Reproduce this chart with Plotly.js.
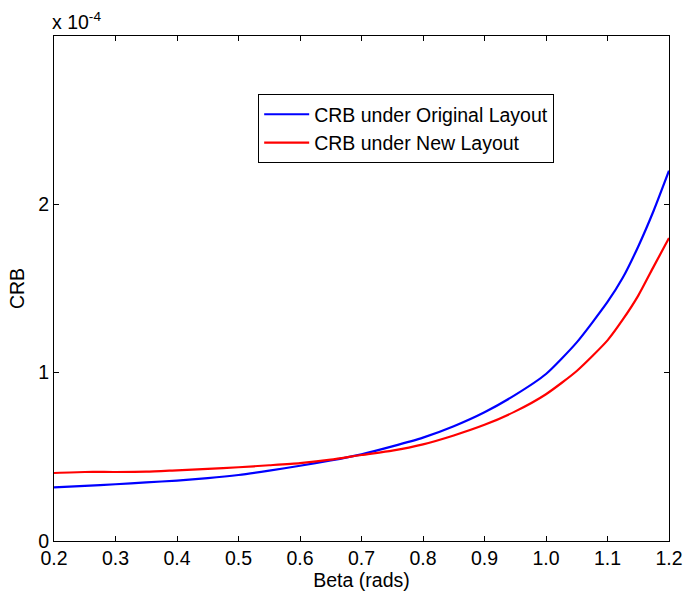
<!DOCTYPE html>
<html>
<head>
<meta charset="utf-8">
<script src="https://cdn.plot.ly/plotly-3.0.1.min.js"></script>
<style>
  html, body { margin: 0; padding: 0; background: #fff; }
  #chart { width: 686px; height: 591px; }
</style>
</head>
<body>
<div id="chart"></div>
<script>
// Beta (rads)
const beta = [0.20, 0.25, 0.30, 0.35, 0.40, 0.45, 0.50, 0.55, 0.60, 0.65, 0.70, 0.75, 0.80, 0.85, 0.90, 0.95, 1.00, 1.05, 1.10, 1.125, 1.15, 1.175, 1.20];
// CRB values in units of 1e-4
const crbOriginal = [0.318, 0.327, 0.337, 0.348, 0.359, 0.373, 0.392, 0.418, 0.447, 0.478, 0.515, 0.562, 0.614, 0.682, 0.765, 0.868, 0.992, 1.180, 1.420, 1.565, 1.750, 1.962, 2.200];
const crbNew = [0.404, 0.410, 0.410, 0.412, 0.420, 0.428, 0.438, 0.450, 0.463, 0.483, 0.511, 0.537, 0.574, 0.627, 0.690, 0.770, 0.872, 1.010, 1.192, 1.316, 1.458, 1.630, 1.800];
const seriesNames = ['CRB under Original Layout', 'CRB under New Layout'];
const xTicks = [0.2, 0.3, 0.4, 0.5, 0.6, 0.7, 0.8, 0.9, 1.0, 1.1, 1.2];
const yTicks = [0, 1, 2];

const font = 'Arial, "Liberation Sans", Helvetica, sans-serif';
const fs = 19.5;

const traces = [
  { x: beta, y: crbOriginal, name: seriesNames[0], type: 'scatter', mode: 'lines',
    line: { color: '#0000ff', width: 2.2, shape: 'spline', smoothing: 0.6 } },
  { x: beta, y: crbNew, name: seriesNames[1], type: 'scatter', mode: 'lines',
    line: { color: '#ff0000', width: 2.2, shape: 'spline', smoothing: 0.6 } }
];

const axisCommon = {
  showgrid: false, zeroline: false, showline: true, linecolor: '#000', linewidth: 1,
  mirror: 'ticks', ticks: 'inside', ticklen: 5, tickcolor: '#000', tickwidth: 1,
  tickfont: { family: font, size: fs, color: '#000' }
};

const layout = {
  width: 686, height: 591,
  margin: { l: 54, r: 17, t: 36, b: 50 },
  paper_bgcolor: '#fff', plot_bgcolor: '#fff',
  font: { family: font, size: fs, color: '#000' },
  xaxis: Object.assign({}, axisCommon, {
    range: [0.2, 1.2], tickvals: xTicks, tickformat: '.1f',
    title: { text: 'Beta (rads)', font: { family: font, size: fs }, standoff: 2 }
  }),
  yaxis: Object.assign({}, axisCommon, {
    range: [0, 3], tickvals: yTicks, ticktext: yTicks.map(String),
    title: { text: 'CRB', font: { family: font, size: fs }, standoff: 8 }
  }),
  showlegend: true,
  legend: {
    x: 0.332, y: 0.885, xanchor: 'left', yanchor: 'top',
    bordercolor: '#000', borderwidth: 1, bgcolor: '#fff',
    itemwidth: 45, tracegroupgap: 0,
    font: { family: font, size: fs, color: '#000' }
  },
  annotations: [{
    xref: 'paper', yref: 'paper', x: 0, y: 1, xanchor: 'left', yanchor: 'bottom',
    xshift: -4, yshift: 1,
    text: 'x 10<sup>-4</sup>', showarrow: false,
    font: { family: font, size: fs, color: '#000' }
  }]
};

Plotly.newPlot('chart', traces, layout, { displayModeBar: false, staticPlot: true });
</script>
</body>
</html>
